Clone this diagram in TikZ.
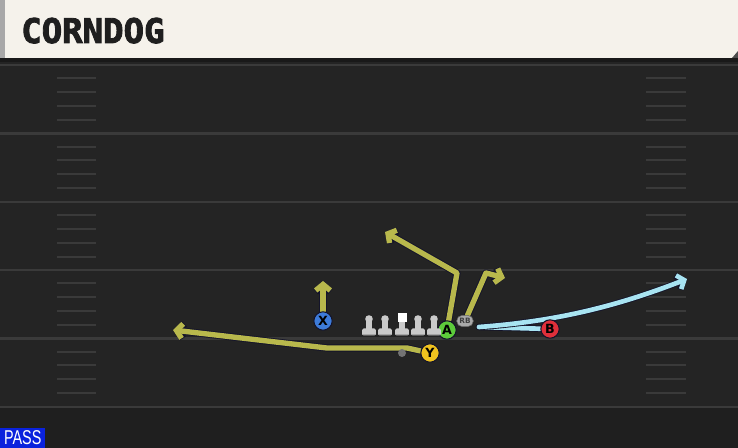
\documentclass[tikz,border=0pt]{standalone}
\usepackage{fontspec}
\setmainfont{DejaVu Sans}
\newfontfamily\titlefont[FakeBold=2.5]{DejaVu Sans Mono Bold}
\newfontfamily\passfont{Liberation Sans}
\usetikzlibrary{arrows.meta,shapes.misc}
\pgfdeclarelayer{field}
\pgfdeclarelayer{routes}
\pgfsetlayers{field,routes,main}
\definecolor{fieldbg}{HTML}{242424}
\definecolor{fieldlow}{HTML}{1F1F1F}
\definecolor{yardline}{HTML}{3A3A3A}
\definecolor{hashcol}{HTML}{3A3A3A}
\definecolor{cream}{HTML}{F5F2EB}
\definecolor{stripe}{HTML}{A8A8A8}
\definecolor{olive}{HTML}{B8B84C}
\definecolor{outl}{HTML}{14142A}
\definecolor{skyb}{HTML}{A8E4F2}
\definecolor{xblue}{HTML}{3D7BD9}
\definecolor{agreen}{HTML}{5DCB3B}
\definecolor{yyel}{HTML}{F0C31F}
\definecolor{bred}{HTML}{DF2F3A}
\definecolor{passblue}{HTML}{0A22DD}
\definecolor{linegrey}{HTML}{CACACA}
\definecolor{tagg}{HTML}{A9A9A9}
\tikzset{
  player/.style={circle,draw=outl,line width=0.8pt,minimum size=13.8pt,inner sep=0pt,
    font=\fontsize{9.5}{9.5}\selectfont\bfseries,text=black},
  routeout/.style={draw=outl,line width=5.4pt,line join=round,line cap=round},
  routein/.style={draw=olive,line width=4.0pt,line join=round,line cap=round},
  blueout/.style={draw=outl,line width=4.8pt,line join=round,line cap=round},
  bluein/.style={draw=skyb,line width=3.5pt,line join=round,line cap=round},
  tipout/.style={-{Straight Barb[length=4.5pt,width=11pt,line width=5.4pt]}},
  tipin/.style={-{Straight Barb[length=4.5pt,width=11pt,line width=4.0pt]}},
  btipout/.style={-{Straight Barb[length=4.5pt,width=11pt,line width=4.8pt]}},
  btipin/.style={-{Straight Barb[length=4.5pt,width=11pt,line width=3.5pt]}},
  hashmark/.style={draw=hashcol,line width=1.5pt},
  yard/.style={draw=yardline,line width=1.6pt},
  lineman/.style={fill=linegrey}
}
\begin{document}
\begin{tikzpicture}[x=0.75pt,y=-0.75pt]
\useasboundingbox (0,0) rectangle (738,448);
\begin{pgfonlayer}{field}
  \fill[fieldbg] (0,58) rectangle (738,448);
  \fill[fieldlow] (0,407) rectangle (738,448);
  \foreach \yy in {65,133.5,202,270,338.5,407} {
    \draw[yard] (0,\yy) -- (738,\yy);
  }
  \foreach \yy in {65,133.5,202,270,338.5} {
    \foreach \dd in {13.5,27,41,55} {
      \draw[hashmark] (57,\yy+\dd) -- (96,\yy+\dd);
      \draw[hashmark] (646,\yy+\dd) -- (686,\yy+\dd);
    }
  }
  % header
  \fill[cream] (0,0) rectangle (738,58);
  \fill[stripe] (0,0) rectangle (5,58);
  \fill[black!90] (0,58) rectangle (738,62);
  \fill[black!70] (732,58) -- (738,51) -- (738,58) -- cycle;
\end{pgfonlayer}

% title
\node[anchor=base west,inner sep=0pt,font=\titlefont\fontsize{25.5}{25.5}\selectfont,text=black!88] (title) at (21,43) {CORNDOG};

% players
\node[player,fill=xblue] (X) at (323,321) {X};
\node[player,fill=agreen] (A) at (447,330) {A};
\node[player,fill=yyel] (Y) at (430,353) {Y};
\node[player,fill=bred] (B) at (550,329) {B};
\node[rounded rectangle,fill=tagg,draw=black!60,line width=0.4pt,minimum width=13.5pt,minimum height=8.5pt,inner sep=0.5pt,
  font=\fontsize{5.5}{5.5}\selectfont\bfseries,text=black!75] (RB) at (465,321) {RB};
\node[circle,fill=black!55,minimum size=6pt,inner sep=0pt] (dot) at (402,353) {};

% linemen
\foreach \cx/\nm in {369/lt,385/lg,418/rg,434/rt} {
  \fill[lineman] (\cx,319) circle (3.8);
  \fill[lineman] (\cx-2.6,319) rectangle (\cx+2.6,329);
  \fill[lineman,rounded corners=1pt] (\cx-6.8,328.5) rectangle (\cx+6.8,335.5);
  \fill[black!35] (\cx-6.8,334) rectangle (\cx+6.8,335.5);
  \coordinate (\nm) at (\cx,327);
}
\fill[white] (397.5,313.5) rectangle (406.5,322.5);
\fill[lineman] (399.4,322) rectangle (404.6,329);
\fill[lineman,rounded corners=1pt] (395.2,328.5) rectangle (408.8,335.5);
\fill[black!35] (395.2,334) rectangle (408.8,335.5);
\coordinate (c) at (402,327);

% route waypoints
\coordinate (xe) at (323,281);
\coordinate (a1) at (457,273);
\coordinate (a2) at (385,232);
\coordinate (r1) at (486,273);
\coordinate (r2) at (505,278);
\coordinate (y1) at (407,348);
\coordinate (y2) at (327,348);
\coordinate (y3) at (173,330);
\coordinate (bs) at (479,327);
\coordinate (be) at (687,279);

\begin{pgfonlayer}{routes}
  \draw[routeout,tipout] (X) -- (xe);
  \draw[routein,tipin] (X) -- (xe);
  \draw[routeout,tipout] (A) -- (a1) -- (a2);
  \draw[routein,tipin] (A) -- (a1) -- (a2);
  \draw[routeout,tipout] (RB) -- (r1) -- (r2);
  \draw[routein,tipin] (RB) -- (r1) -- (r2);
  \draw[routeout,tipout] (Y) -- (y1) -- (y2) -- (y3);
  \draw[routein,tipin] (Y) -- (y1) -- (y2) -- (y3);
  \draw[blueout] (B) -- (bs);
  \draw[bluein] (B) -- (bs);
  \draw[blueout,btipout] (bs) .. controls (560,321) and (620,305) .. (be);
  \draw[bluein,btipin] (bs) .. controls (560,321) and (620,305) .. (be);
\end{pgfonlayer}

% PASS label
\node[fill=passblue,anchor=south west,minimum width=33.75pt,minimum height=15pt,inner sep=0pt,
  text=white,font=\passfont\fontsize{15}{15}\selectfont] (pass) at (0,448) {\scalebox{0.72}[1]{PASS}};
\end{tikzpicture}
\end{document}
